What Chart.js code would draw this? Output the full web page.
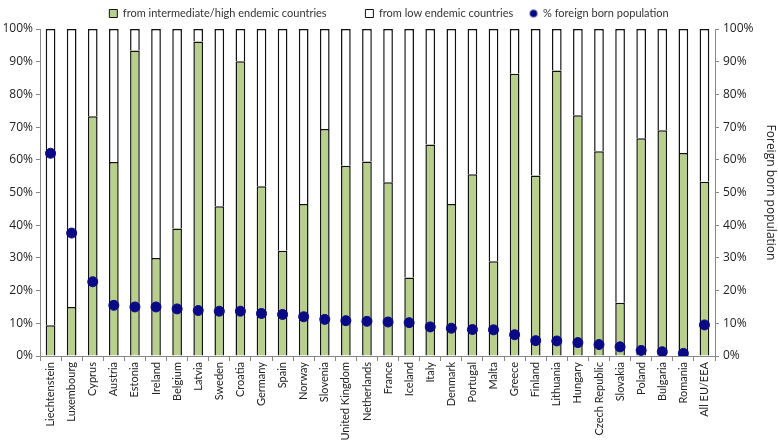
<!DOCTYPE html>
<html>
<head>
<meta charset="utf-8">
<script src="https://cdn.jsdelivr.net/npm/chart.js@4/dist/chart.umd.min.js"></script>
<style>
  html, body { margin: 0; padding: 0; background: #fff; }
  #wrap { width: 778px; height: 440px; }
</style>
</head>
<body>
<div id="wrap"><canvas id="chart1"></canvas></div>
<script>
var countries = ["Liechtenstein", "Luxembourg", "Cyprus", "Austria", "Estonia", "Ireland", "Belgium", "Latvia",
    "Sweden", "Croatia", "Germany", "Spain", "Norway", "Slovenia", "United Kingdom", "Netherlands", "France",
    "Iceland", "Italy", "Denmark", "Portugal", "Malta", "Greece", "Finland", "Lithuania", "Hungary",
    "Czech Republic", "Slovakia", "Poland", "Bulgaria", "Romania", "All EU/EEA"];

// share of migrants from intermediate/high endemic countries (%)
var highEndemic = [9.4, 15, 73.3, 59.3, 93.4, 30, 39, 96.2, 45.8, 90.1, 51.9, 32.2, 46.5, 69.4, 58.2, 59.5, 53.1,
    24, 64.7, 46.5, 55.6, 29, 86.3, 55.2, 87.3, 73.6, 62.6, 16.3, 66.6, 69, 62.1, 53.3];

// share from low endemic countries = remainder
var lowEndemic = highEndemic.map(function (v) { return +(100 - v).toFixed(1); });

// foreign born population (%)
var foreignBorn = [62, 37.6, 22.7, 15.5, 15, 15, 14.4, 13.9, 13.7, 13.7, 13, 12.7, 12, 11.2, 10.8, 10.6, 10.4,
    10.2, 8.9, 8.5, 8.1, 8, 6.5, 4.7, 4.6, 4.1, 3.5, 2.8, 1.7, 1.3, 0.8, 9.5];

var pctTicks = [0, 10, 20, 30, 40, 50, 60, 70, 80, 90, 100];

// small dot for the legend entry
var dot = document.createElement('canvas');
dot.width = 10; dot.height = 10;
var dctx = dot.getContext('2d');
dctx.fillStyle = '#0a0a86';
dctx.beginPath();
dctx.arc(5, 5, 3.8, 0, Math.PI * 2);
dctx.fill();

var legendGap = ['            ', '    ', ''];

var canvas = document.getElementById('chart1').getContext('2d');

new Chart(canvas, {
    type: 'bar',
    data: {
        labels: countries,
        datasets: [{
            label: "from intermediate/high endemic countries",
            data: highEndemic,
            backgroundColor: "#b9d08c",
            borderColor: "#111",
            borderWidth: 1.5,
            stack: 's',
            yAxisID: 'y',
            order: 2,
            pointStyle: 'rect'
        }, {
            label: "from low endemic countries",
            data: lowEndemic,
            backgroundColor: "#ffffff",
            borderColor: "#111",
            borderWidth: 1.5,
            stack: 's',
            yAxisID: 'y',
            order: 3,
            pointStyle: 'rect'
        }, {
            type: 'line',
            label: "% foreign born population",
            data: foreignBorn,
            showLine: false,
            pointRadius: 5,
            pointHoverRadius: 5,
            backgroundColor: "#0a0a86",
            borderColor: "#0a0a86",
            yAxisID: 'y2',
            order: 1,
            pointStyle: 'circle'
        }]
    },
    options: {
        responsive: true,
        maintainAspectRatio: false,
        animation: false,
        layout: { padding: { top: 3, left: 0, right: 0, bottom: 0 } },
        datasets: {
            bar: { barPercentage: 0.46, categoryPercentage: 1 }
        },
        plugins: {
            tooltip: { enabled: false },
            legend: {
                position: 'top',
                labels: {
                    usePointStyle: true,
                    boxWidth: 8,
                    boxHeight: 8,
                    padding: 5,
                    color: '#333',
                    font: { family: 'Lato', size: 11 },
                    sort: function (a, b) { return a.datasetIndex - b.datasetIndex; },
                    generateLabels: function (chart) {
                        var items = Chart.defaults.plugins.legend.labels.generateLabels(chart);
                        items.forEach(function (it) {
                            it.text = it.text + legendGap[it.datasetIndex];
                            it.lineWidth = 1;
                            it.strokeStyle = '#111';
                            if (it.datasetIndex === 2) it.pointStyle = dot;
                        });
                        return items;
                    }
                }
            }
        },
        scales: {
            x: {
                stacked: true,
                grid: { display: true, offset: true, drawOnChartArea: false, tickLength: 5, color: '#888' },
                border: { display: true, color: '#888' },
                ticks: {
                    minRotation: 90, maxRotation: 90, autoSkip: false, padding: 1,
                    color: '#222',
                    font: { family: 'Lato', size: 11 }
                },
                afterFit: function (s) { s.height = 84; }
            },
            y: {
                stacked: true,
                position: 'left',
                min: 0, max: 100,
                afterBuildTicks: function (s) { s.ticks = pctTicks.map(function (v) { return { value: v }; }); },
                grid: { drawOnChartArea: false, tickLength: 4, color: '#888' },
                border: { display: true, color: '#888' },
                ticks: {
                    padding: 3, color: '#222',
                    font: { family: 'Open Sans', size: 12 },
                    callback: function (v) { return v + '%'; }
                },
                afterFit: function (s) { s.width = 40; }
            },
            y2: {
                position: 'right',
                min: 0, max: 100,
                afterBuildTicks: function (s) { s.ticks = pctTicks.map(function (v) { return { value: v }; }); },
                grid: { drawOnChartArea: false, tickLength: 4, color: '#888' },
                border: { display: true, color: '#888' },
                title: {
                    display: true, text: 'Foreign born population', color: '#222',
                    font: { family: 'Open Sans', size: 12 }, padding: { top: 0, bottom: 0 }
                },
                ticks: {
                    padding: 4, color: '#222',
                    font: { family: 'Open Sans', size: 12 },
                    callback: function (v) { return v + '%'; }
                },
                afterFit: function (s) { s.width = 63; }
            }
        }
    }
});
</script>
</body>
</html>
